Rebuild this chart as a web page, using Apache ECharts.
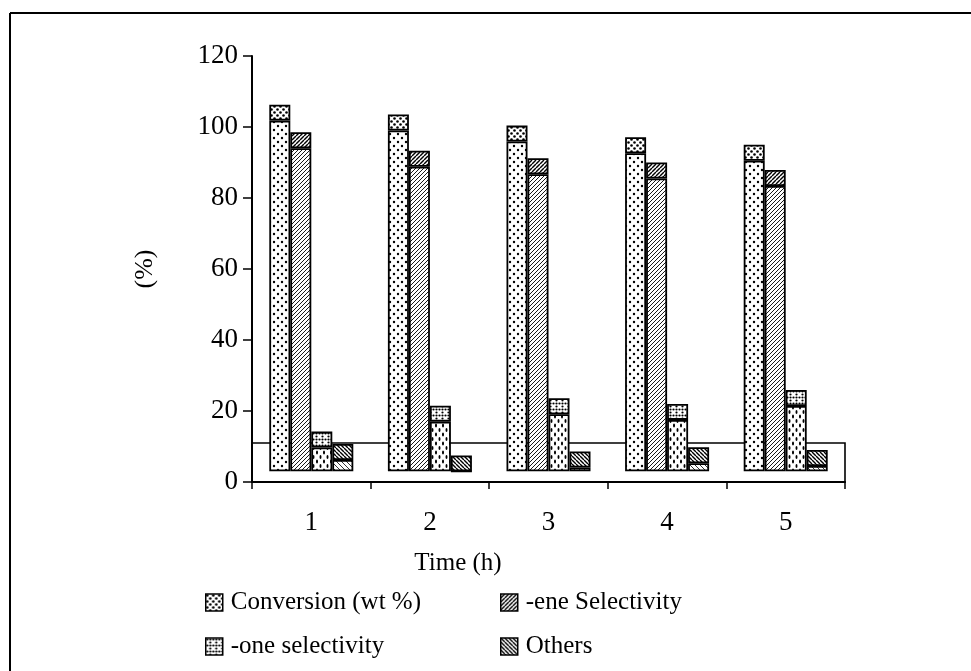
<!DOCTYPE html>
<html>
<head>
<meta charset="utf-8">
<script src="https://cdn.jsdelivr.net/npm/echarts@6/dist/echarts.min.js"></script>
<style>
  html, body { margin: 0; padding: 0; background: #fff; }
  #chart { width: 971px; height: 671px; }
</style>
</head>
<body>
<div id="chart"></div>
<script>
// Reaction results per hour (%), front-face heights of each column
const categories = ['1', '2', '3', '4', '5'];
const conversion = [101.8, 99.0, 95.9, 92.6, 90.5];
const eneSelectivity = [94.0, 88.8, 86.7, 85.5, 83.4];
const oneSelectivity = [9.7, 17.0, 19.1, 17.5, 21.4];
const others = [6.2, 3.0, 4.1, 5.3, 4.5];
const seriesNames = ['Conversion (wt %)', '-ene Selectivity', '-one selectivity', 'Others'];
const yMin = 0, yMax = 120, yStep = 20;

// 3-D look: columns stand on a raised floor and carry a top face
const FLOOR = 3;
const DEPTH = 4.5;
const FLOOR_BACK = 11;

const FONT = '"Liberation Serif", "Times New Roman", serif';

// ---- fill patterns -------------------------------------------------------
function tile(w, h, draw) {
  const c = document.createElement('canvas');
  c.width = w; c.height = h;
  const g = c.getContext('2d');
  g.fillStyle = '#fff';
  g.fillRect(0, 0, w, h);
  g.fillStyle = '#000';
  g.strokeStyle = '#000';
  draw(g, w, h);
  return { image: c, repeat: 'repeat' };
}
function dots(pts, rx, ry) {
  return g => pts.forEach(([x, y]) => {
    g.beginPath();
    g.ellipse(x, y, rx, ry || rx, 0, 0, Math.PI * 2);
    g.fill();
  });
}
function hatch(dir, lw) {
  return (g, s) => {
    g.lineWidth = lw;
    for (let x0 = -s; x0 <= s; x0 += s) {
      g.beginPath();
      if (dir > 0) { g.moveTo(x0, s); g.lineTo(x0 + s, 0); }
      else { g.moveTo(x0, 0); g.lineTo(x0 + s, s); }
      g.stroke();
    }
  };
}

const bodyFill = [
  tile(8, 8, dots([[2, 2], [6, 6]], 1.2)),
  tile(4, 4, hatch(1, 0.9)),
  tile(7, 9, dots([[2, 2.5], [5.5, 7]], 1.0, 1.9)),
  tile(5, 5, hatch(-1, 0.8))
];
const capFill = [
  tile(6, 6, dots([[1.5, 1.5], [4.5, 4.5]], 1.3)),
  tile(4, 4, hatch(1, 1.4)),
  tile(6, 6, dots([[1.5, 1.5], [4.5, 4.5], [4.5, 1.5]], 1.1)),
  tile(4, 4, hatch(-1, 1.4))
];

// ---- series --------------------------------------------------------------
const groups = [conversion, eneSelectivity, oneSelectivity, others];
const series = [];
groups.forEach((vals, k) => {
  const stack = 'col' + k;
  const common = { type: 'bar', stack, barWidth: 21, barGap: '0%', z: 10, animation: false };
  series.push(Object.assign({}, common, {
    name: 'floor' + k,
    silent: true,
    itemStyle: { color: 'rgba(0,0,0,0)', borderWidth: 0 },
    data: vals.map(() => FLOOR),
    markArea: k === 0 ? {
      silent: true,
      z: 1,
      itemStyle: { color: 'rgba(0,0,0,0)', borderColor: '#000', borderWidth: 1.6 },
      data: [[{ yAxis: 0 }, { yAxis: FLOOR_BACK }]]
    } : undefined
  }));
  series.push(Object.assign({}, common, {
    name: seriesNames[k],
    itemStyle: { color: bodyFill[k], borderColor: '#000', borderWidth: 1.8 },
    data: vals.map(v => Math.max(0, v - FLOOR))
  }));
  series.push(Object.assign({}, common, {
    name: seriesNames[k] + ' top',
    itemStyle: { color: capFill[k], borderColor: '#000', borderWidth: 1.8 },
    data: vals.map(() => DEPTH)
  }));
});

function legendItem(k) {
  return { name: seriesNames[k], icon: 'rect',
           itemStyle: { color: capFill[k], borderColor: '#000', borderWidth: 1.5 } };
}
const legendCommon = {
  orient: 'vertical', top: 590, itemWidth: 17, itemHeight: 17, itemGap: 19,
  padding: 0, selectedMode: false,
  textStyle: { fontFamily: FONT, fontSize: 25, color: '#000', padding: [0, 0, 0, 3] }
};

const chart = echarts.init(document.getElementById('chart'), null, { renderer: 'canvas' });
chart.setOption({
  backgroundColor: '#fff',
  animation: false,
  grid: { left: 252, right: 126, top: 56, bottom: 189, containLabel: false },
  xAxis: {
    type: 'category',
    data: categories,
    axisLine: { lineStyle: { color: '#000', width: 2 } },
    axisTick: { show: true, length: 7, alignWithLabel: false, lineStyle: { color: '#000', width: 1.5 } },
    axisLabel: { color: '#000', fontFamily: FONT, fontSize: 27, margin: 27 },
    splitLine: { show: false }
  },
  yAxis: {
    type: 'value',
    min: yMin, max: yMax, interval: yStep,
    name: '(%)',
    nameLocation: 'middle',
    nameGap: 94,
    nameRotate: 90,
    nameTextStyle: { color: '#000', fontFamily: FONT, fontSize: 26 },
    axisLine: { show: true, lineStyle: { color: '#000', width: 2 } },
    axisTick: { show: true, length: 9, lineStyle: { color: '#000', width: 1.5 } },
    axisLabel: { color: '#000', fontFamily: FONT, fontSize: 27, margin: 14 },
    splitLine: { show: false }
  },
  legend: [
    Object.assign({}, legendCommon, { left: 205, data: [legendItem(0), legendItem(2)] }),
    Object.assign({}, legendCommon, { left: 500, data: [legendItem(1), legendItem(3)] })
  ],
  graphic: [
    { type: 'text', x: 458, y: 563,
      style: { text: 'Time (h)', fontFamily: FONT, fontSize: 25, fill: '#000',
               textAlign: 'center', textVerticalAlign: 'middle' } },
    { type: 'line', shape: { x1: 10, y1: 13, x2: 971, y2: 13 }, style: { stroke: '#000', lineWidth: 2 } },
    { type: 'line', shape: { x1: 10, y1: 13, x2: 10, y2: 671 }, style: { stroke: '#000', lineWidth: 2 } }
  ],
  series
});
</script>
</body>
</html>
